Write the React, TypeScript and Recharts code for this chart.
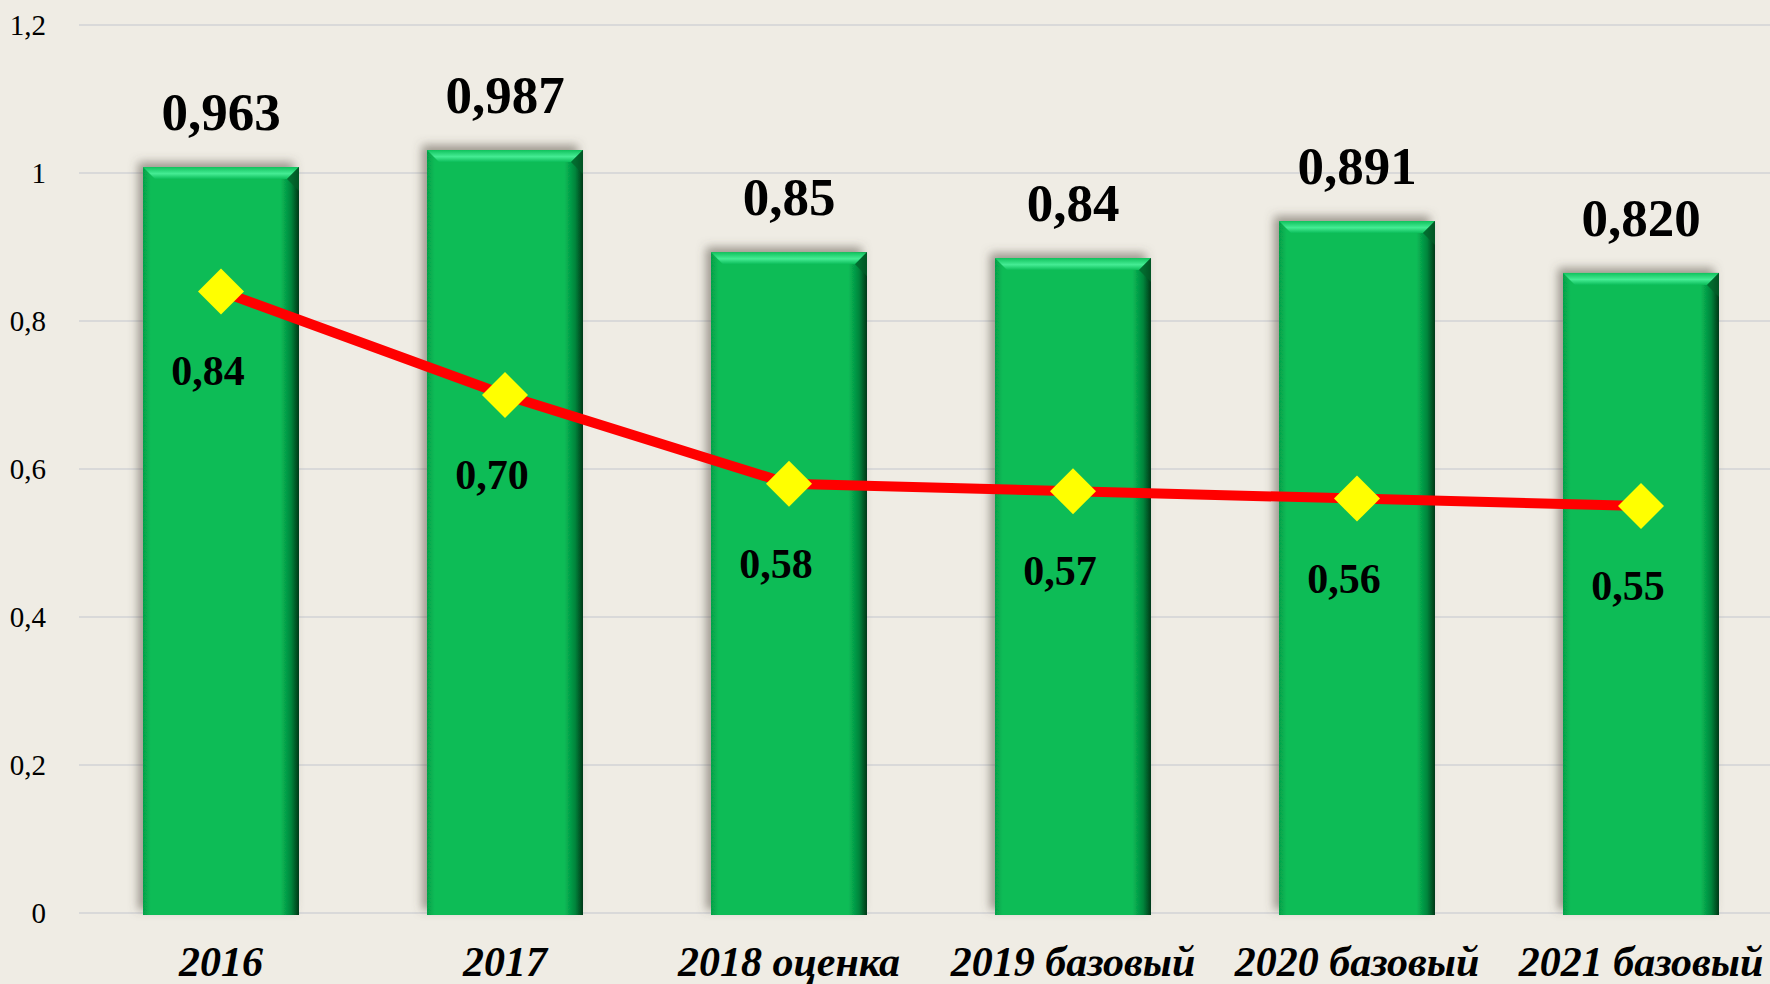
import { ComposedChart, Bar, Line, XAxis, YAxis, CartesianGrid, LabelList } from 'recharts'

const categories = ['2016', '2017', '2018 оценка', '2019 базовый', '2020 базовый', '2021 базовый']
// bar heights as drawn in the picture
const barValues = [1.008, 1.031, 0.893, 0.885, 0.935, 0.865]
// bar labels as printed above the bars
const barLabels = ['0,963', '0,987', '0,85', '0,84', '0,891', '0,820']
const lineValues = [0.84, 0.7, 0.58, 0.57, 0.56, 0.55]
const yTicks = [0, 0.2, 0.4, 0.6, 0.8, 1, 1.2]

const data = categories.map((name, i) => ({
  name,
  bar: barValues[i],
  barLabel: barLabels[i],
  line: lineValues[i],
}))

const FONT = "'Liberation Serif', 'Times New Roman', serif"

function BeveledBar(props: any) {
  const { x, y, width, height, index } = props
  if (!width || !height) return null
  const bev = 12
  const id = `bb-${index}`
  return (
    <g>
      <defs>
        <linearGradient id={`${id}-body`} x1="0" y1="0" x2="1" y2="0">
          <stop offset="0" stopColor="#06a049" />
          <stop offset="0.05" stopColor="#08bc57" />
          <stop offset="0.88" stopColor="#08bc57" />
          <stop offset="0.95" stopColor="#04853c" />
          <stop offset="1" stopColor="#013818" />
        </linearGradient>
        <linearGradient id={`${id}-top`} x1="0" y1="0" x2="0" y2="1">
          <stop offset="0" stopColor="#10c25d" />
          <stop offset="0.55" stopColor="#45ec94" />
          <stop offset="1" stopColor="#0bbd59" />
        </linearGradient>
        <filter id={`${id}-sh`} x="-20%" y="-20%" width="140%" height="140%">
          <feDropShadow dx="-5" dy="-5" stdDeviation="5" floodColor="#5a5246" floodOpacity="0.55" />
        </filter>
      </defs>
      <rect x={x} y={y} width={width} height={height + 2} fill={`url(#${id}-body)`} filter={`url(#${id}-sh)`} />
      <polygon
        points={`${x},${y} ${x + width},${y} ${x + width - bev},${y + bev} ${x + bev},${y + bev}`}
        fill={`url(#${id}-top)`}
      />
      <polygon
        points={`${x + width},${y} ${x + width},${y + bev * 2} ${x + width - bev},${y + bev}`}
        fill="#03602a"
        opacity={0.7}
      />
    </g>
  )
}

function Diamond(props: any) {
  const { cx, cy, index } = props
  const r = 23
  return (
    <polygon
      key={`d-${index}`}
      points={`${cx},${cy - r} ${cx + r},${cy} ${cx},${cy + r} ${cx - r},${cy}`}
      fill="#FFFF00"
    />
  )
}

function XTick(props: any) {
  const { x, y, payload } = props
  return (
    <text x={x} y={y + 55} textAnchor="middle" fontFamily={FONT} fontSize={42} fontWeight="bold" fontStyle="italic" fill="#000">
      {payload.value}
    </text>
  )
}

function YTick(props: any) {
  const { x, y, payload } = props
  return (
    <text x={x} y={y + 10} textAnchor="end" fontFamily={FONT} fontSize={29} fill="#000">
      {String(payload.value).replace('.', ',')}
    </text>
  )
}

function BarTopLabel(props: any) {
  const { x, y, width, value } = props
  return (
    <text x={x + width / 2} y={y - 37} textAnchor="middle" fontFamily={FONT} fontSize={53} fontWeight="bold" fill="#000">
      {value}
    </text>
  )
}

function LinePointLabel(props: any) {
  const { x, y, value } = props
  return (
    <text x={x - 13} y={y + 94} textAnchor="middle" fontFamily={FONT} fontSize={42} fontWeight="bold" fill="#000">
      {Number(value).toFixed(2).replace('.', ',')}
    </text>
  )
}

export default function App() {
  return (
    <div
      style={{
        position: 'absolute',
        left: 0,
        top: 0,
        width: 1770,
        height: 984,
        overflow: 'hidden',
        background: '#EFECE4',
      }}
    >
      <ComposedChart width={1790} height={984} data={data} margin={{ top: 25, right: 7, left: 0, bottom: 0 }} barSize={156}>
        <CartesianGrid vertical={false} stroke="#D9D9D9" strokeWidth={2} />
        <XAxis dataKey="name" axisLine={false} tickLine={false} height={71} tick={<XTick />} interval={0} />
        <YAxis
          domain={[0, 1.2]}
          ticks={yTicks}
          width={79}
          axisLine={false}
          tickLine={false}
          tickMargin={27}
          tick={<YTick />}
        />
        <Bar dataKey="bar" shape={<BeveledBar />} isAnimationActive={false}>
          <LabelList dataKey="barLabel" content={<BarTopLabel />} />
        </Bar>
        <Line
          dataKey="line"
          stroke="#FF0000"
          strokeWidth={10}
          dot={(p: any) => <Diamond key={`dot-${p.index}`} {...p} />}
          activeDot={false}
          isAnimationActive={false}
        >
          <LabelList dataKey="line" content={<LinePointLabel />} />
        </Line>
      </ComposedChart>
    </div>
  )
}
